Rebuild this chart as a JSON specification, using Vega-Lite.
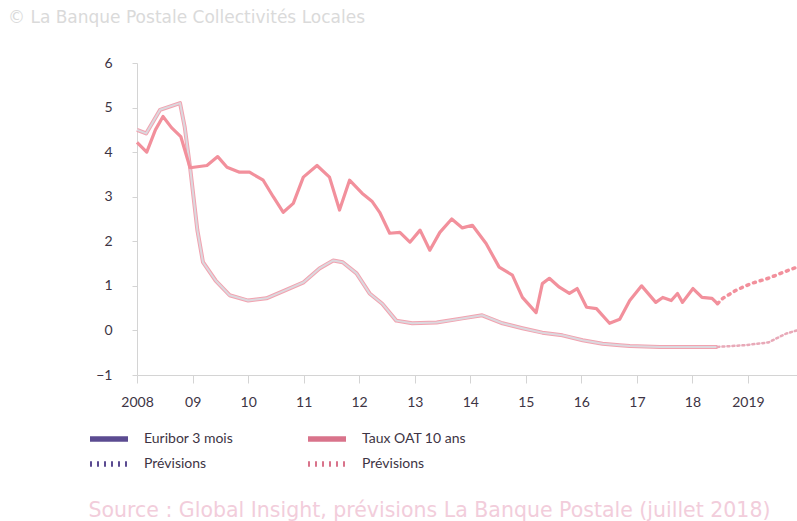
{
  "$schema": "https://vega.github.io/schema/vega-lite/v6.json",
  "autosize": "none",
  "width": 660,
  "height": 312,
  "padding": {"left": 137, "top": 63, "right": 0, "bottom": 146},
  "background": "#ffffff",
  "title": {
    "text": "© La Banque Postale Collectivités Locales",
    "anchor": "start",
    "frame": "group",
    "dx": -129,
    "dy": -25,
    "fontSize": 17,
    "font": "DejaVu Sans",
    "fontWeight": "normal",
    "color": "#dadada"
  },
  "config": {
    "view": {"stroke": null},
    "font": "Lato",
    "axis": {"labelFont": "Lato", "labelFontSize": 14, "labelColor": "#3d3444", "domainColor": "#d4d4d4", "tickColor": "#d4d4d4", "grid": false}
  },
  "datasets": {
    "hist": [
      {"date": "2008-01-01", "series": "Euribor 3 mois", "value": 4.5},
      {"date": "2008-03-01", "series": "Euribor 3 mois", "value": 4.42},
      {"date": "2008-06-01", "series": "Euribor 3 mois", "value": 4.95},
      {"date": "2008-10-10", "series": "Euribor 3 mois", "value": 5.1},
      {"date": "2008-11-10", "series": "Euribor 3 mois", "value": 4.56},
      {"date": "2008-12-15", "series": "Euribor 3 mois", "value": 3.66},
      {"date": "2009-02-01", "series": "Euribor 3 mois", "value": 2.25},
      {"date": "2009-03-10", "series": "Euribor 3 mois", "value": 1.53},
      {"date": "2009-06-01", "series": "Euribor 3 mois", "value": 1.12},
      {"date": "2009-09-01", "series": "Euribor 3 mois", "value": 0.79},
      {"date": "2010-01-01", "series": "Euribor 3 mois", "value": 0.67},
      {"date": "2010-05-01", "series": "Euribor 3 mois", "value": 0.72},
      {"date": "2010-09-01", "series": "Euribor 3 mois", "value": 0.9},
      {"date": "2011-01-01", "series": "Euribor 3 mois", "value": 1.08},
      {"date": "2011-04-15", "series": "Euribor 3 mois", "value": 1.39},
      {"date": "2011-07-15", "series": "Euribor 3 mois", "value": 1.57},
      {"date": "2011-09-15", "series": "Euribor 3 mois", "value": 1.53},
      {"date": "2011-12-15", "series": "Euribor 3 mois", "value": 1.28},
      {"date": "2012-03-10", "series": "Euribor 3 mois", "value": 0.83},
      {"date": "2012-06-01", "series": "Euribor 3 mois", "value": 0.6},
      {"date": "2012-09-01", "series": "Euribor 3 mois", "value": 0.22},
      {"date": "2012-12-15", "series": "Euribor 3 mois", "value": 0.16},
      {"date": "2013-05-25", "series": "Euribor 3 mois", "value": 0.18},
      {"date": "2013-11-10", "series": "Euribor 3 mois", "value": 0.27},
      {"date": "2014-03-20", "series": "Euribor 3 mois", "value": 0.34},
      {"date": "2014-08-01", "series": "Euribor 3 mois", "value": 0.16},
      {"date": "2014-12-10", "series": "Euribor 3 mois", "value": 0.05},
      {"date": "2015-04-20", "series": "Euribor 3 mois", "value": -0.05},
      {"date": "2015-08-30", "series": "Euribor 3 mois", "value": -0.11},
      {"date": "2016-01-10", "series": "Euribor 3 mois", "value": -0.22},
      {"date": "2016-05-20", "series": "Euribor 3 mois", "value": -0.3},
      {"date": "2016-09-10", "series": "Euribor 3 mois", "value": -0.33},
      {"date": "2016-11-15", "series": "Euribor 3 mois", "value": -0.35},
      {"date": "2017-06-01", "series": "Euribor 3 mois", "value": -0.37},
      {"date": "2018-05-10", "series": "Euribor 3 mois", "value": -0.37},
      {"date": "2018-06-15", "series": "Euribor 3 mois", "value": -0.37},
      {"date": "2008-01-01", "series": "Taux OAT 10 ans", "value": 4.22},
      {"date": "2008-03-05", "series": "Taux OAT 10 ans", "value": 4.0},
      {"date": "2008-05-01", "series": "Taux OAT 10 ans", "value": 4.5},
      {"date": "2008-06-20", "series": "Taux OAT 10 ans", "value": 4.8},
      {"date": "2008-08-15", "series": "Taux OAT 10 ans", "value": 4.55},
      {"date": "2008-10-15", "series": "Taux OAT 10 ans", "value": 4.35},
      {"date": "2008-12-15", "series": "Taux OAT 10 ans", "value": 3.65},
      {"date": "2009-04-05", "series": "Taux OAT 10 ans", "value": 3.7},
      {"date": "2009-06-15", "series": "Taux OAT 10 ans", "value": 3.9},
      {"date": "2009-08-15", "series": "Taux OAT 10 ans", "value": 3.66},
      {"date": "2009-11-05", "series": "Taux OAT 10 ans", "value": 3.55},
      {"date": "2010-01-10", "series": "Taux OAT 10 ans", "value": 3.55},
      {"date": "2010-04-10", "series": "Taux OAT 10 ans", "value": 3.37},
      {"date": "2010-06-15", "series": "Taux OAT 10 ans", "value": 3.0},
      {"date": "2010-08-20", "series": "Taux OAT 10 ans", "value": 2.65},
      {"date": "2010-10-25", "series": "Taux OAT 10 ans", "value": 2.85},
      {"date": "2010-12-30", "series": "Taux OAT 10 ans", "value": 3.44},
      {"date": "2011-03-30", "series": "Taux OAT 10 ans", "value": 3.7},
      {"date": "2011-06-20", "series": "Taux OAT 10 ans", "value": 3.44},
      {"date": "2011-08-25", "series": "Taux OAT 10 ans", "value": 2.7},
      {"date": "2011-10-30", "series": "Taux OAT 10 ans", "value": 3.37},
      {"date": "2012-01-20", "series": "Taux OAT 10 ans", "value": 3.08},
      {"date": "2012-03-25", "series": "Taux OAT 10 ans", "value": 2.9},
      {"date": "2012-05-15", "series": "Taux OAT 10 ans", "value": 2.65},
      {"date": "2012-07-20", "series": "Taux OAT 10 ans", "value": 2.18},
      {"date": "2012-09-25", "series": "Taux OAT 10 ans", "value": 2.2},
      {"date": "2012-11-30", "series": "Taux OAT 10 ans", "value": 1.98},
      {"date": "2013-02-05", "series": "Taux OAT 10 ans", "value": 2.25},
      {"date": "2013-04-10", "series": "Taux OAT 10 ans", "value": 1.8},
      {"date": "2013-06-15", "series": "Taux OAT 10 ans", "value": 2.2},
      {"date": "2013-09-01", "series": "Taux OAT 10 ans", "value": 2.5},
      {"date": "2013-11-10", "series": "Taux OAT 10 ans", "value": 2.3},
      {"date": "2014-01-15", "series": "Taux OAT 10 ans", "value": 2.36},
      {"date": "2014-04-15", "series": "Taux OAT 10 ans", "value": 1.95},
      {"date": "2014-07-10", "series": "Taux OAT 10 ans", "value": 1.42},
      {"date": "2014-10-05", "series": "Taux OAT 10 ans", "value": 1.24},
      {"date": "2014-12-10", "series": "Taux OAT 10 ans", "value": 0.74},
      {"date": "2015-03-10", "series": "Taux OAT 10 ans", "value": 0.4},
      {"date": "2015-04-20", "series": "Taux OAT 10 ans", "value": 1.05},
      {"date": "2015-06-05", "series": "Taux OAT 10 ans", "value": 1.17},
      {"date": "2015-08-10", "series": "Taux OAT 10 ans", "value": 0.97},
      {"date": "2015-10-15", "series": "Taux OAT 10 ans", "value": 0.83},
      {"date": "2015-12-05", "series": "Taux OAT 10 ans", "value": 0.94},
      {"date": "2016-02-05", "series": "Taux OAT 10 ans", "value": 0.52},
      {"date": "2016-04-10", "series": "Taux OAT 10 ans", "value": 0.49},
      {"date": "2016-07-05", "series": "Taux OAT 10 ans", "value": 0.16},
      {"date": "2016-09-10", "series": "Taux OAT 10 ans", "value": 0.25},
      {"date": "2016-11-15", "series": "Taux OAT 10 ans", "value": 0.67},
      {"date": "2017-02-01", "series": "Taux OAT 10 ans", "value": 1.0},
      {"date": "2017-05-05", "series": "Taux OAT 10 ans", "value": 0.63},
      {"date": "2017-06-20", "series": "Taux OAT 10 ans", "value": 0.74},
      {"date": "2017-08-15", "series": "Taux OAT 10 ans", "value": 0.67},
      {"date": "2017-09-25", "series": "Taux OAT 10 ans", "value": 0.83},
      {"date": "2017-10-28", "series": "Taux OAT 10 ans", "value": 0.63},
      {"date": "2018-01-05", "series": "Taux OAT 10 ans", "value": 0.94},
      {"date": "2018-03-05", "series": "Taux OAT 10 ans", "value": 0.74},
      {"date": "2018-05-10", "series": "Taux OAT 10 ans", "value": 0.72},
      {"date": "2018-06-15", "series": "Taux OAT 10 ans", "value": 0.6}
    ],
    "prev": [
      {"date": "2018-06-15", "series": "Prévisions Euribor", "value": -0.37},
      {"date": "2018-12-15", "series": "Prévisions Euribor", "value": -0.33},
      {"date": "2019-05-15", "series": "Prévisions Euribor", "value": -0.27},
      {"date": "2019-09-10", "series": "Prévisions Euribor", "value": -0.07},
      {"date": "2019-11-20", "series": "Prévisions Euribor", "value": 0.0},
      {"date": "2018-06-15", "series": "Prévisions OAT", "value": 0.6},
      {"date": "2018-07-20", "series": "Prévisions OAT", "value": 0.72},
      {"date": "2018-10-15", "series": "Prévisions OAT", "value": 0.9},
      {"date": "2019-01-20", "series": "Prévisions OAT", "value": 1.05},
      {"date": "2019-05-15", "series": "Prévisions OAT", "value": 1.17},
      {"date": "2019-09-25", "series": "Prévisions OAT", "value": 1.35},
      {"date": "2019-11-20", "series": "Prévisions OAT", "value": 1.42}
    ]
  },
  "encoding": {
    "x": {
      "field": "date", "type": "temporal",
      "scale": {"domain": ["2008-01-01", "2019-11-20"]},
      "axis": {
        "title": "Source : Global Insight, prévisions La Banque Postale (juillet 2018)",
        "titleFont": "DejaVu Sans", "titleFontSize": 20.5, "titleFontWeight": "normal", "titleColor": "#f2cddb",
        "titleAnchor": "start", "titleAlign": "left", "titleBaseline": "alphabetic", "titleX": -49, "titleY": 141,
        "tickCount": {"interval": "year", "step": 1},
        "labelExpr": "(year(datum.value)==2008 || year(datum.value)==2019) ? timeFormat(datum.value,'%Y') : timeFormat(datum.value,'%y')",
        "tickSize": 8, "labelPadding": 12, "labelFlush": false, "labelOverlap": false
      }
    },
    "y": {
      "field": "value", "type": "quantitative",
      "scale": {"domain": [-1, 6], "nice": false, "zero": false},
      "axis": {"title": null, "values": [-1, 0, 1, 2, 3, 4, 5, 6], "tickSize": 5, "labelPadding": 20, "domain": true}
    }
  },
  "layer": [
    {
      "mark": {"type": "rule", "color": "#e3e3e3", "strokeWidth": 1.5},
      "encoding": {"y": {"datum": 0}, "x": null}
    },
    {
      "data": {"name": "hist"},
      "transform": [{"filter": "datum.series == 'Euribor 3 mois'"}],
      "mark": {"type": "line", "color": "#f2a3b0", "strokeWidth": 4, "strokeJoin": "round"}
    },
    {
      "data": {"name": "hist"},
      "transform": [{"filter": "datum.series == 'Euribor 3 mois'"}],
      "mark": {"type": "line", "color": "#dcd8de", "strokeWidth": 2, "strokeJoin": "round"}
    },
    {
      "data": {"name": "hist"},
      "transform": [{"filter": "datum.series == 'Taux OAT 10 ans'"}],
      "mark": {"type": "line", "color": "#f2909c", "strokeWidth": 3.2, "strokeJoin": "round"}
    },
    {
      "data": {"name": "prev"},
      "transform": [{"filter": "datum.series == 'Prévisions Euribor'"}],
      "mark": {"type": "line", "color": "#e8a9b8", "strokeWidth": 2.5, "strokeDash": [2, 3], "strokeCap": "round"}
    },
    {
      "data": {"name": "prev"},
      "transform": [{"filter": "datum.series == 'Prévisions OAT'"}],
      "mark": {"type": "line", "color": "#f2909c", "strokeWidth": 3.5, "strokeDash": [2, 5], "strokeCap": "round"}
    },
    {
      "data": {"values": [
        {"date": "2010-01-01", "value": -5, "s": "Euribor 3 mois"},
        {"date": "2010-01-01", "value": -5, "s": "Taux OAT 10 ans"},
        {"date": "2010-01-01", "value": -5, "s": "Prévisions Euribor"},
        {"date": "2010-01-01", "value": -5, "s": "Prévisions OAT"}
      ]},
      "mark": {"type": "line", "opacity": 0, "clip": true},
      "encoding": {
        "color": {
          "field": "s", "type": "nominal",
          "scale": {"domain": ["Euribor 3 mois", "Prévisions Euribor", "Taux OAT 10 ans", "Prévisions OAT"], "range": ["#5b4b91", "#5b4b91", "#d9738b", "#d9738b"]},
          "legend": {
            "title": null, "orient": "none", "legendX": -42, "legendY": 362,
            "columns": 2, "columnPadding": 62, "rowPadding": 0,
            "symbolType": "M-1.7,0H1.7", "symbolSize": 500, "symbolStrokeWidth": 5.5, "symbolOpacity": 1,
            "labelFont": "Lato", "labelFontSize": 14, "labelColor": "#3d3444", "labelOffset": 21,
            "labelExpr": "indexof(datum.label, 'Prévisions') == 0 ? 'Prévisions' : datum.label"
          }
        },
        "strokeDash": {
          "field": "s", "type": "nominal",
          "scale": {"domain": ["Euribor 3 mois", "Prévisions Euribor", "Taux OAT 10 ans", "Prévisions OAT"], "range": [[1, 0], [2, 5], [1, 0], [2, 5]]},
          "legend": null
        }
      }
    }
  ]
}
